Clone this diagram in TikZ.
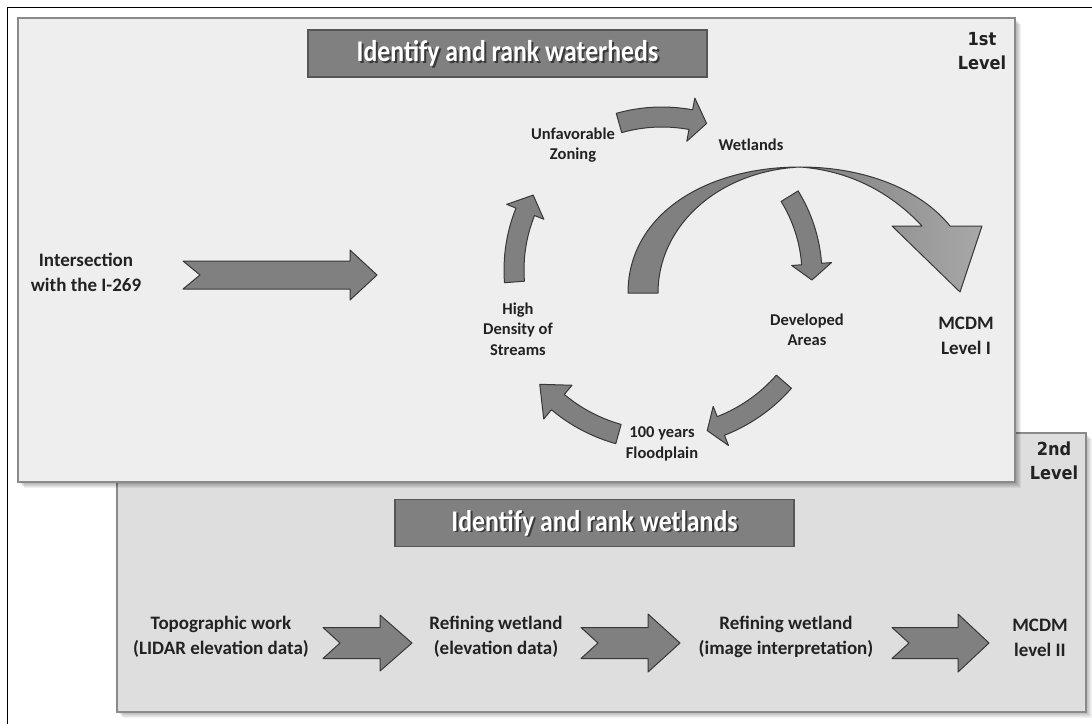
\documentclass[tikz,border=0pt]{standalone}
\usepackage{fontspec}
\setmainfont{Carlito}
\newfontfamily\lvlfont{DejaVu Sans}
\definecolor{pone}{HTML}{EEEEEE}
\definecolor{ptwo}{HTML}{DEDEDE}
\definecolor{pborder}{HTML}{8A8A8A}
\definecolor{afill}{HTML}{808080}
\definecolor{aline}{HTML}{383838}
\definecolor{alight}{HTML}{A8A8A8}
\definecolor{txt}{HTML}{222222}
\tikzset{
  panel/.style={draw=pborder, line width=2pt},
  arrowst/.style={fill=afill, draw=aline, line width=1pt, line join=round},
  lbl/.style={font=\fontsize{19}{25}\selectfont\bfseries, align=center, text=txt, inner sep=0pt},
  smalllbl/.style={font=\fontsize{16.5}{20.5}\selectfont\bfseries, align=center, text=txt, inner sep=0pt},
  lvl/.style={font=\lvlfont\fontsize{18}{24}\selectfont\bfseries, align=center, text=txt, inner sep=0pt},
  titlebox/.style={fill=afill, draw=aline!85, line width=1.3pt, minimum width=399pt, minimum height=47pt, inner sep=0pt},
  titletext/.style={font=\fontsize{30}{32}\selectfont\bfseries, text=white, inner sep=0pt},
  titleshadow/.style={font=\fontsize{30}{32}\selectfont\bfseries, text=black, opacity=0.55, inner sep=0pt}
}
% curved block arrow on a circle: cx, cy, r, tail angle, head-base angle, tip angle, body half width, head half width
\newcommand{\carrow}[8]{%
  \begin{scope}[shift={(#1,#2)}]
    \filldraw[arrowst] (#4:#3+#7) arc[start angle=#4, end angle=#5, radius=#3+#7]
      -- (#5:#3+#8) -- (#6:#3) -- (#5:#3-#8) -- (#5:#3-#7)
      arc[start angle=#5, end angle=#4, radius=#3-#7] -- cycle;
  \end{scope}}
% notched straight block arrow: tail x, notch x, head-base x, tip x, centre y, body half, head half
\newcommand{\notcharrow}[7]{%
  \filldraw[arrowst] (#1,#5-#6) -- (#3,#5-#6) -- (#3,#5-#7) -- (#4,#5) -- (#3,#5+#7)
    -- (#3,#5+#6) -- (#1,#5+#6) -- (#2,#5) -- cycle;}
\begin{document}
\begin{tikzpicture}[x=1pt,y=-1pt]
\useasboundingbox (0,0) rectangle (1092,724);
\fill[white] (0,0) rectangle (1092,724);
% outer frame
\draw[black, line width=1pt] (7,724) -- (7,7) -- (1092,7);

% panel 2 (behind)
\foreach \d in {1,...,6} \fill[black, opacity=0.05] (117+\d,433+\d) rectangle (1086+\d,712+\d);
\draw[panel, fill=ptwo] (117,433) rectangle (1086,712);
% panel 1
\foreach \d in {1,...,6} \fill[black, opacity=0.06] (18+\d,18+\d) rectangle (1015+\d,482+\d);
\draw[panel, fill=pone] (18,18) rectangle (1015,482);

% titles
\node[titlebox] (t1) at (507.5,53.5) {};
\node[titleshadow] at (509.5,55) {\scalebox{0.86}[1]{Identify and rank waterheds}};
\node[titletext] (t1txt) at (t1) {\scalebox{0.86}[1]{Identify and rank waterheds}};
\node[titlebox] (t2) at (594.5,523) {};
\node[titleshadow] at (596.5,524.5) {\scalebox{0.86}[1]{Identify and rank wetlands}};
\node[titletext] (t2txt) at (t2) {\scalebox{0.86}[1]{Identify and rank wetlands}};

% level labels
\node[lvl] (lvl1) at (982,51) {\scalebox{0.9}[1]{1st}\\\scalebox{0.9}[1]{Level}};
\node[lvl] (lvl2) at (1054,461) {\scalebox{0.9}[1]{2nd}\\\scalebox{0.9}[1]{Level}};

% first level labels
\node[lbl] (inter) at (86,272) {Intersection\\with the I-269};
\node[smalllbl] (unfav) at (573,145) {Unfavorable\\Zoning};
\node[smalllbl] (wet) at (751,145) {Wetlands};
\node[smalllbl] (high) at (518,329) {High\\Density of\\Streams};
\node[smalllbl] (dev) at (807,330) {Developed\\Areas};
\node[smalllbl] (flood) at (662,444) {100 years\\Floodplain};
\node[lbl] (mcdm1) at (966,336) {MCDM\\Level I};

% straight arrow of first level
\notcharrow{183}{200}{350}{377}{275}{14}{25}

% cycle arrows
\carrow{670}{270}{156}{175.6}{201.9}{208.7}{10}{20}
\carrow{662}{275}{158}{254.2}{280.5}{286.4}{10}{22}
\carrow{662}{275}{150}{-31.7}{-4.2}{1.9}{10}{20}
\carrow{662}{275}{162}{41.2}{68.7}{73.8}{10}{21}
\carrow{662}{278}{162}{105.6}{130}{139}{10}{22}

% big arc arrow to MCDM Level I
\filldraw[arrowst] (628,293) .. controls (628,215) and (705,167) .. (800,167)
  .. controls (718,171) and (658,226) .. (658,293) -- cycle;
\path[draw=aline, line width=1pt, line join=round, left color=afill, right color=alight]
  (800,167) .. controls (866,167) and (921,190) .. (950,226)
  -- (982,226) -- (960,292) -- (892,226) -- (922,226)
  .. controls (894,196) and (854,171) .. (800,167) -- cycle;

% second level
\node[lbl] (topo) at (221,637) {Topographic work\\(LIDAR elevation data)};
\node[lbl] (ref1) at (496,637) {Refining wetland\\(elevation data)};
\node[lbl] (ref2) at (786,637) {Refining wetland\\(image interpretation)};
\node[lbl] (mcdm2) at (1040,638) {MCDM\\level II};
\notcharrow{323}{340}{380}{412}{643}{15.5}{28}
\notcharrow{581}{598}{648}{680}{643}{15.5}{29}
\notcharrow{892}{909}{958}{989}{643}{15.5}{29}
\end{tikzpicture}
\end{document}
